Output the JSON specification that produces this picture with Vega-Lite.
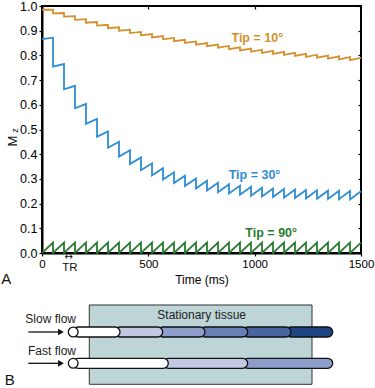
{
  "$schema": "https://vega.github.io/schema/vega-lite/v6.json",
  "width": 319,
  "height": 247,
  "autosize": "none",
  "padding": {"left": 42, "top": 6, "right": 14, "bottom": 135},
  "background": "white",
  "config": {
    "font": "Liberation Sans",
    "view": {"stroke": "#000", "strokeWidth": 2},
    "axis": {"grid": false, "domainColor": "#000", "domainWidth": 2, "tickColor": "#000", "tickWidth": 1.2, "labelColor": "#000", "labelFontSize": 12, "labelFont": "Liberation Sans", "titleFont": "Liberation Sans", "titleColor": "#000", "titleFontSize": 12, "titleFontWeight": "normal", "labelFlush": false, "labelOverlap": false}
  },
  "datasets": {
    "curves": [
      {"s":"10","i":0,"t":0,"v":0.98481},
      {"s":"10","i":1,"t":51.72,"v":0.98545},{"s":"10","i":2,"t":51.72,"v":0.97048},
      {"s":"10","i":3,"t":103.45,"v":0.97172},{"s":"10","i":4,"t":103.45,"v":0.95696},
      {"s":"10","i":5,"t":155.17,"v":0.95877},{"s":"10","i":6,"t":155.17,"v":0.9442},
      {"s":"10","i":7,"t":206.9,"v":0.94654},{"s":"10","i":8,"t":206.9,"v":0.93216},
      {"s":"10","i":9,"t":258.62,"v":0.93501},{"s":"10","i":10,"t":258.62,"v":0.92081},
      {"s":"10","i":11,"t":310.34,"v":0.92414},{"s":"10","i":12,"t":310.34,"v":0.9101},
      {"s":"10","i":13,"t":362.07,"v":0.91388},{"s":"10","i":14,"t":362.07,"v":0.9},
      {"s":"10","i":15,"t":413.79,"v":0.9042},{"s":"10","i":16,"t":413.79,"v":0.89046},
      {"s":"10","i":17,"t":465.52,"v":0.89506},{"s":"10","i":18,"t":465.52,"v":0.88146},
      {"s":"10","i":19,"t":517.24,"v":0.88644},{"s":"10","i":20,"t":517.24,"v":0.87297},
      {"s":"10","i":21,"t":568.97,"v":0.87831},{"s":"10","i":22,"t":568.97,"v":0.86497},
      {"s":"10","i":23,"t":620.69,"v":0.87064},{"s":"10","i":24,"t":620.69,"v":0.85741},
      {"s":"10","i":25,"t":672.41,"v":0.8634},{"s":"10","i":26,"t":672.41,"v":0.85028},
      {"s":"10","i":27,"t":724.14,"v":0.85657},{"s":"10","i":28,"t":724.14,"v":0.84356},
      {"s":"10","i":29,"t":775.86,"v":0.85013},{"s":"10","i":30,"t":775.86,"v":0.83721},
      {"s":"10","i":31,"t":827.59,"v":0.84405},{"s":"10","i":32,"t":827.59,"v":0.83123},
      {"s":"10","i":33,"t":879.31,"v":0.83832},{"s":"10","i":34,"t":879.31,"v":0.82558},
      {"s":"10","i":35,"t":931.03,"v":0.83291},{"s":"10","i":36,"t":931.03,"v":0.82026},
      {"s":"10","i":37,"t":982.76,"v":0.82781},{"s":"10","i":38,"t":982.76,"v":0.81523},
      {"s":"10","i":39,"t":1034.48,"v":0.82299},{"s":"10","i":40,"t":1034.48,"v":0.81049},
      {"s":"10","i":41,"t":1086.21,"v":0.81845},{"s":"10","i":42,"t":1086.21,"v":0.80602},
      {"s":"10","i":43,"t":1137.93,"v":0.81417},{"s":"10","i":44,"t":1137.93,"v":0.8018},
      {"s":"10","i":45,"t":1189.66,"v":0.81012},{"s":"10","i":46,"t":1189.66,"v":0.79781},
      {"s":"10","i":47,"t":1241.38,"v":0.8063},{"s":"10","i":48,"t":1241.38,"v":0.79405},
      {"s":"10","i":49,"t":1293.1,"v":0.8027},{"s":"10","i":50,"t":1293.1,"v":0.79051},
      {"s":"10","i":51,"t":1344.83,"v":0.79931},{"s":"10","i":52,"t":1344.83,"v":0.78717},
      {"s":"10","i":53,"t":1396.55,"v":0.79611},{"s":"10","i":54,"t":1396.55,"v":0.78402},
      {"s":"10","i":55,"t":1448.28,"v":0.79309},{"s":"10","i":56,"t":1448.28,"v":0.78105},
      {"s":"10","i":57,"t":1500,"v":0.79025},

      {"s":"30","i":0,"t":0,"v":0.86603},
      {"s":"30","i":1,"t":51.72,"v":0.87166},{"s":"30","i":2,"t":51.72,"v":0.75488},
      {"s":"30","i":3,"t":103.45,"v":0.76518},{"s":"30","i":4,"t":103.45,"v":0.66267},
      {"s":"30","i":5,"t":155.17,"v":0.67684},{"s":"30","i":6,"t":155.17,"v":0.58616},
      {"s":"30","i":7,"t":206.9,"v":0.60354},{"s":"30","i":8,"t":206.9,"v":0.52268},
      {"s":"30","i":9,"t":258.62,"v":0.54273},{"s":"30","i":10,"t":258.62,"v":0.47002},
      {"s":"30","i":11,"t":310.34,"v":0.49228},{"s":"30","i":12,"t":310.34,"v":0.42633},
      {"s":"30","i":13,"t":362.07,"v":0.45042},{"s":"30","i":14,"t":362.07,"v":0.39007},
      {"s":"30","i":15,"t":413.79,"v":0.41569},{"s":"30","i":16,"t":413.79,"v":0.36},
      {"s":"30","i":17,"t":465.52,"v":0.38688},{"s":"30","i":18,"t":465.52,"v":0.33505},
      {"s":"30","i":19,"t":517.24,"v":0.36298},{"s":"30","i":20,"t":517.24,"v":0.31435},
      {"s":"30","i":21,"t":568.97,"v":0.34315},{"s":"30","i":22,"t":568.97,"v":0.29718},
      {"s":"30","i":23,"t":620.69,"v":0.3267},{"s":"30","i":24,"t":620.69,"v":0.28293},
      {"s":"30","i":25,"t":672.41,"v":0.31305},{"s":"30","i":26,"t":672.41,"v":0.27111},
      {"s":"30","i":27,"t":724.14,"v":0.30172},{"s":"30","i":28,"t":724.14,"v":0.2613},
      {"s":"30","i":29,"t":775.86,"v":0.29233},{"s":"30","i":30,"t":775.86,"v":0.25316},
      {"s":"30","i":31,"t":827.59,"v":0.28453},{"s":"30","i":32,"t":827.59,"v":0.24641},
      {"s":"30","i":33,"t":879.31,"v":0.27806},{"s":"30","i":34,"t":879.31,"v":0.24081},
      {"s":"30","i":35,"t":931.03,"v":0.2727},{"s":"30","i":36,"t":931.03,"v":0.23616},
      {"s":"30","i":37,"t":982.76,"v":0.26824},{"s":"30","i":38,"t":982.76,"v":0.2323},
      {"s":"30","i":39,"t":1034.48,"v":0.26454},{"s":"30","i":40,"t":1034.48,"v":0.2291},
      {"s":"30","i":41,"t":1086.21,"v":0.26148},{"s":"30","i":42,"t":1086.21,"v":0.22645},
      {"s":"30","i":43,"t":1137.93,"v":0.25894},{"s":"30","i":44,"t":1137.93,"v":0.22425},
      {"s":"30","i":45,"t":1189.66,"v":0.25683},{"s":"30","i":46,"t":1189.66,"v":0.22242},
      {"s":"30","i":47,"t":1241.38,"v":0.25508},{"s":"30","i":48,"t":1241.38,"v":0.22091},
      {"s":"30","i":49,"t":1293.1,"v":0.25363},{"s":"30","i":50,"t":1293.1,"v":0.21965},
      {"s":"30","i":51,"t":1344.83,"v":0.25242},{"s":"30","i":52,"t":1344.83,"v":0.2186},
      {"s":"30","i":53,"t":1396.55,"v":0.25142},{"s":"30","i":54,"t":1396.55,"v":0.21774},
      {"s":"30","i":55,"t":1448.28,"v":0.2506},{"s":"30","i":56,"t":1448.28,"v":0.21703},
      {"s":"30","i":57,"t":1500,"v":0.24991},

      {"s":"90","i":0,"t":0,"v":0},
      {"s":"90","i":1,"t":51.72,"v":0.042},{"s":"90","i":2,"t":51.72,"v":0},
      {"s":"90","i":3,"t":103.45,"v":0.042},{"s":"90","i":4,"t":103.45,"v":0},
      {"s":"90","i":5,"t":155.17,"v":0.042},{"s":"90","i":6,"t":155.17,"v":0},
      {"s":"90","i":7,"t":206.9,"v":0.042},{"s":"90","i":8,"t":206.9,"v":0},
      {"s":"90","i":9,"t":258.62,"v":0.042},{"s":"90","i":10,"t":258.62,"v":0},
      {"s":"90","i":11,"t":310.34,"v":0.042},{"s":"90","i":12,"t":310.34,"v":0},
      {"s":"90","i":13,"t":362.07,"v":0.042},{"s":"90","i":14,"t":362.07,"v":0},
      {"s":"90","i":15,"t":413.79,"v":0.042},{"s":"90","i":16,"t":413.79,"v":0},
      {"s":"90","i":17,"t":465.52,"v":0.042},{"s":"90","i":18,"t":465.52,"v":0},
      {"s":"90","i":19,"t":517.24,"v":0.042},{"s":"90","i":20,"t":517.24,"v":0},
      {"s":"90","i":21,"t":568.97,"v":0.042},{"s":"90","i":22,"t":568.97,"v":0},
      {"s":"90","i":23,"t":620.69,"v":0.042},{"s":"90","i":24,"t":620.69,"v":0},
      {"s":"90","i":25,"t":672.41,"v":0.042},{"s":"90","i":26,"t":672.41,"v":0},
      {"s":"90","i":27,"t":724.14,"v":0.042},{"s":"90","i":28,"t":724.14,"v":0},
      {"s":"90","i":29,"t":775.86,"v":0.042},{"s":"90","i":30,"t":775.86,"v":0},
      {"s":"90","i":31,"t":827.59,"v":0.042},{"s":"90","i":32,"t":827.59,"v":0},
      {"s":"90","i":33,"t":879.31,"v":0.042},{"s":"90","i":34,"t":879.31,"v":0},
      {"s":"90","i":35,"t":931.03,"v":0.042},{"s":"90","i":36,"t":931.03,"v":0},
      {"s":"90","i":37,"t":982.76,"v":0.042},{"s":"90","i":38,"t":982.76,"v":0},
      {"s":"90","i":39,"t":1034.48,"v":0.042},{"s":"90","i":40,"t":1034.48,"v":0},
      {"s":"90","i":41,"t":1086.21,"v":0.042},{"s":"90","i":42,"t":1086.21,"v":0},
      {"s":"90","i":43,"t":1137.93,"v":0.042},{"s":"90","i":44,"t":1137.93,"v":0},
      {"s":"90","i":45,"t":1189.66,"v":0.042},{"s":"90","i":46,"t":1189.66,"v":0},
      {"s":"90","i":47,"t":1241.38,"v":0.042},{"s":"90","i":48,"t":1241.38,"v":0},
      {"s":"90","i":49,"t":1293.1,"v":0.042},{"s":"90","i":50,"t":1293.1,"v":0},
      {"s":"90","i":51,"t":1344.83,"v":0.042},{"s":"90","i":52,"t":1344.83,"v":0},
      {"s":"90","i":53,"t":1396.55,"v":0.042},{"s":"90","i":54,"t":1396.55,"v":0},
      {"s":"90","i":55,"t":1448.28,"v":0.042},{"s":"90","i":56,"t":1448.28,"v":0},
      {"s":"90","i":57,"t":1500,"v":0.042}
    ],
    "tips": [
      {"s":"10","t":1012.4,"v":0.869,"label":"Tip = 10°"},
      {"s":"30","t":999.2,"v":0.316,"label":"Tip = 30°"},
      {"s":"90","t":1077.7,"v":0.0798,"label":"Tip = 90°"}
    ],
    "box": [{"t":222.4,"t2":1269.6,"v":-0.2105,"v2":-0.5316}],
    "segments": [
      {"o":1,"shade":"s5","t":1147.3,"t2":1366.9,"v":-0.2996,"v2":-0.3401},
      {"o":2,"shade":"s4","t":943.7,"t2":1170.8,"v":-0.2996,"v2":-0.3401},
      {"o":3,"shade":"s3","t":743.0,"t2":967.2,"v":-0.2996,"v2":-0.3401},
      {"o":4,"shade":"s2","t":544.1,"t2":766.5,"v":-0.2996,"v2":-0.3401},
      {"o":5,"shade":"s1","t":343.3,"t2":567.6,"v":-0.2996,"v2":-0.3401},
      {"o":6,"shade":"w","t":145.8,"t2":366.8,"v":-0.2996,"v2":-0.3401},
      {"o":7,"shade":"s2","t":943.7,"t2":1366.9,"v":-0.4263,"v2":-0.4668},
      {"o":8,"shade":"s1","t":570.4,"t2":967.2,"v":-0.4263,"v2":-0.4668},
      {"o":9,"shade":"w","t":145.8,"t2":593.9,"v":-0.4263,"v2":-0.4668}
    ],
    "circles": [{"t":146.7,"v":-0.3198},{"t":146.7,"v":-0.4466}],
    "arrows": [{"t":-64.4,"t2":80,"v":-0.3198},{"t":-64.4,"t2":80,"v":-0.4466}],
    "heads": [{"t":89.3,"v":-0.3198},{"t":89.3,"v":-0.4466}],
    "flowLabels": [{"t":159.9,"v":-0.2684,"label":"Slow flow"},{"t":159.9,"v":-0.3968,"label":"Fast flow"}],
    "tissueLabel": [{"t":750.9,"v":-0.251,"label":"Stationary tissue"}],
    "letters": [{"t":-168.3,"v":-0.1053,"label":"A"},{"t":-151.9,"v":-0.5142,"label":"B"}],
    "tr": [{"t":131.7,"v":-0.0607,"label":"TR"}],
    "trArrow": [{"t":125.5,"v":-0.0162,"label":"↔"}],
    "mLabel": [{"t":-136.4,"v":0.4534,"label":"M"}],
    "zLabel": [{"t":-128.6,"v":0.496,"label":"z"}]
  },
  "encoding": {
    "x": {"field": "t", "type": "quantitative", "scale": {"domain": [0, 1500]}, "axis": null},
    "y": {"field": "v", "type": "quantitative", "scale": {"domain": [0, 1]}, "axis": null}
  },
  "layer": [
    {
      "data": {"name": "curves"},
      "mark": {"type": "line", "strokeWidth": 1.8, "interpolate": "linear"},
      "encoding": {
        "x": {"field": "t", "type": "quantitative", "scale": {"domain": [0, 1500]},
          "axis": {"orient": "bottom", "values": [0, 500, 1000, 1500], "format": "d", "labelFontSize": 11.5, "tickSize": 3, "labelPadding": 2, "title": "Time (ms)", "titlePadding": 5}},
        "y": {"field": "v", "type": "quantitative", "scale": {"domain": [0, 1]},
          "axis": {"orient": "left", "values": [0, 0.1, 0.2, 0.3, 0.4, 0.5, 0.6, 0.7, 0.8, 0.9, 1.0], "format": ".1f", "labelFontSize": 12.5, "tickSize": 3, "labelPadding": 2, "title": null}},
        "color": {"field": "s", "type": "nominal", "scale": {"domain": ["10", "30", "90"], "range": ["#d4912d", "#2d8dd5", "#2b7a31"]}, "legend": null},
        "order": {"field": "i", "type": "quantitative"}
      }
    },
    {
      "data": {"name": "tips"},
      "mark": {"type": "text", "fontSize": 12.5, "fontWeight": "bold", "align": "center", "baseline": "middle"},
      "encoding": {
        "x": {"field": "t", "type": "quantitative", "scale": {"domain": [0, 1500]},
          "axis": {"orient": "top", "values": [0, 500, 1000, 1500], "labels": false, "domain": false, "tickSize": -3, "title": null}},
        "y": {"field": "v", "type": "quantitative", "scale": {"domain": [0, 1]},
          "axis": {"orient": "right", "values": [0, 0.1, 0.2, 0.3, 0.4, 0.5, 0.6, 0.7, 0.8, 0.9, 1.0], "labels": false, "domain": false, "tickSize": -3, "title": null}},
        "text": {"field": "label"},
        "color": {"field": "s", "type": "nominal", "scale": {"domain": ["10", "30", "90"], "range": ["#d4912d", "#2d8dd5", "#2b7a31"]}, "legend": null}
      }
    },
    {
      "data": {"name": "box"},
      "mark": {"type": "rect", "fill": "#bdd5d7", "stroke": "#333", "strokeWidth": 1},
      "encoding": {"x2": {"field": "t2"}, "y2": {"field": "v2"}}
    },
    {
      "data": {"name": "segments"},
      "mark": {"type": "rect", "cornerRadius": 5, "stroke": "#111", "strokeWidth": 1.3},
      "encoding": {
        "x2": {"field": "t2"}, "y2": {"field": "v2"},
        "fill": {"field": "shade", "type": "nominal", "scale": {"domain": ["w", "s1", "s2", "s3", "s4", "s5"], "range": ["#ffffff", "#c1c8e0", "#8e9dca", "#6a7fb5", "#4865a0", "#1e4582"]}, "legend": null},
        "order": {"field": "o", "type": "quantitative"}
      }
    },
    {
      "data": {"name": "arrows"},
      "mark": {"type": "rule", "stroke": "#111", "strokeWidth": 1.3},
      "encoding": {"x2": {"field": "t2"}}
    },
    {
      "data": {"name": "heads"},
      "mark": {"type": "point", "shape": "triangle-right", "filled": true, "color": "#111", "size": 45, "opacity": 1},
      "encoding": {}
    },
    {
      "data": {"name": "circles"},
      "mark": {"type": "point", "shape": "circle", "filled": true, "fill": "#ffffff", "stroke": "#111", "strokeWidth": 1.3, "size": 95, "opacity": 1},
      "encoding": {}
    },
    {
      "data": {"name": "flowLabels"},
      "mark": {"type": "text", "fontSize": 12, "align": "right", "baseline": "middle", "color": "#222"},
      "encoding": {"text": {"field": "label"}}
    },
    {
      "data": {"name": "tissueLabel"},
      "mark": {"type": "text", "fontSize": 12, "align": "center", "baseline": "middle", "color": "#222"},
      "encoding": {"text": {"field": "label"}}
    },
    {
      "data": {"name": "letters"},
      "mark": {"type": "text", "fontSize": 15, "align": "center", "baseline": "middle", "color": "#111"},
      "encoding": {"text": {"field": "label"}}
    },
    {
      "data": {"name": "tr"},
      "mark": {"type": "text", "fontSize": 11.5, "align": "center", "baseline": "middle", "color": "#111"},
      "encoding": {"text": {"field": "label"}}
    },
    {
      "data": {"name": "trArrow"},
      "mark": {"type": "text", "font": "DejaVu Sans", "fontSize": 10, "align": "center", "baseline": "middle", "color": "#111"},
      "encoding": {"text": {"field": "label"}}
    },
    {
      "data": {"name": "mLabel"},
      "mark": {"type": "text", "fontSize": 13, "angle": 270, "align": "center", "baseline": "middle", "color": "#111"},
      "encoding": {"text": {"field": "label"}}
    },
    {
      "data": {"name": "zLabel"},
      "mark": {"type": "text", "fontSize": 9, "angle": 270, "align": "center", "baseline": "middle", "color": "#111"},
      "encoding": {"text": {"field": "label"}}
    }
  ],
  "resolve": {"axis": {"x": "independent", "y": "independent"}}
}
